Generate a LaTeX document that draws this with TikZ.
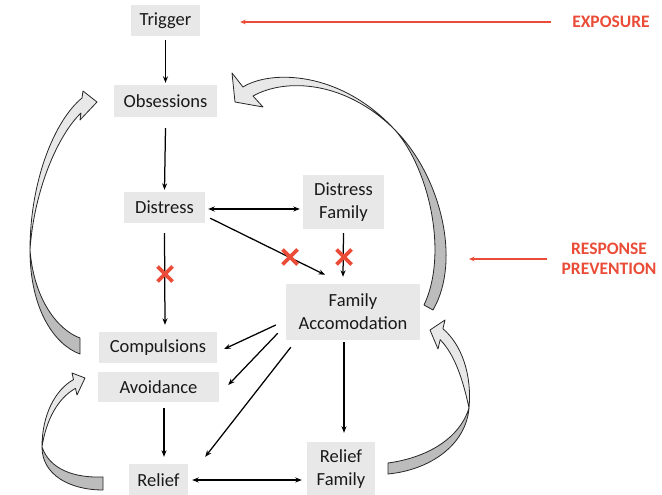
\documentclass[tikz,border=0pt]{standalone}
\usepackage{fontspec}
\setmainfont{Carlito}
\usetikzlibrary{arrows.meta}
\definecolor{boxgray}{RGB}{232,232,232}
\definecolor{redmark}{RGB}{234,76,56}
\definecolor{bandlight}{RGB}{232,232,232}
\definecolor{banddark}{RGB}{188,188,188}
\begin{document}
\begin{tikzpicture}[x=1pt,y=-1pt,
  box/.style={fill=boxgray, inner sep=0pt, align=center, text=black!90,
    font=\fontsize{18.5}{23}\selectfont},
  arr/.style={-{Stealth[length=6.5pt,width=5pt]}, line width=1.25pt},
  arrboth/.style={{Stealth[length=6.5pt,width=5pt]}-{Stealth[length=6.5pt,width=5pt]}, line width=1.25pt},
  redtext/.style={text=redmark, inner sep=0pt, align=center,
    font=\fontsize{17.5}{20.5}\selectfont\bfseries},
  redarr/.style={draw=redmark, line width=1.2pt, -{Stealth[length=5.5pt,width=4.5pt]}},
  xmark/.style={draw=redmark, line width=3.6pt},
  bandedge/.style={draw=black!85, line width=0.8pt, line join=round},
  redx/.pic={\draw[xmark] (-7.5,-7.5) -- (7.5,7.5) (-7.5,7.5) -- (7.5,-7.5);}
]
\useasboundingbox (0,0) rectangle (662,495);

% boxes
\node[box, minimum width=69pt, minimum height=31pt] (trig) at (165.5,20.5) {Trigger};
\node[box, minimum width=103pt, minimum height=32pt] (obs) at (165.5,101) {Obsessions};
\node[box, minimum width=81pt, minimum height=31pt] (dis) at (164.5,207.5) {Distress};
\node[box, minimum width=81pt, minimum height=54pt] (disf) at (343.5,202) {Distress\\Family};
\node[box, minimum width=134pt, minimum height=56pt] (fam) at (353,312) {Family\\Accomodation};
\node[box, minimum width=118pt, minimum height=31pt] (comp) at (158,347.5) {Compulsions};
\node[box, minimum width=121pt, minimum height=30pt] (avoid) at (158.5,387) {Avoidance};
\node[box, minimum width=59pt, minimum height=32pt] (rel) at (158.5,480) {Relief};
\node[box, minimum width=68pt, minimum height=54pt] (relf) at (341,469) {Relief\\Family};

% labels on the right
\node[redtext] (expo) at (611,22) {EXPOSURE};
\node[redtext] (resp) at (609,259) {RESPONSE\\PREVENTION};
\coordinate (rpe) at (469,259);

% connectors
\draw[arr] ([yshift=-4pt]trig.south) -- ([yshift=2pt]obs.north);
\draw[arr] ([yshift=-11pt]obs.south) -- ([yshift=2pt]dis.north);
\draw[arrboth] ([xshift=3pt,yshift=-1.5pt]dis.east) -- ([xshift=-3pt,yshift=-7pt]disf.west);
\draw[arr] ([xshift=5pt,yshift=5pt]dis.south east) -- ([xshift=-28pt,yshift=9pt]fam.north);
\draw[arr] ([yshift=-4pt]disf.south) -- ([xshift=-10pt,yshift=7pt]fam.north);
\draw[arr] ([yshift=-10pt]dis.south) -- ([xshift=7pt,yshift=7pt]comp.north);
\draw[arr] ([xshift=-10pt,yshift=-13pt]fam.west) -- ([xshift=7pt,yshift=-1.5pt]comp.east);
\draw[arr] ([xshift=-8pt,yshift=7pt]fam.south west) -- ([xshift=9pt,yshift=2pt]avoid.east);
\draw[arr] ([xshift=5pt,yshift=-7pt]fam.south west) -- ([xshift=17pt,yshift=7pt]rel.north east);
\draw[arr] ([xshift=-9pt,yshift=-2pt]fam.south) -- ([xshift=3pt,yshift=9pt]relf.north);
\draw[arr] ([xshift=5.5pt,yshift=-6pt]avoid.south) -- ([xshift=5.5pt,yshift=7pt]rel.north);
\draw[arrboth] ([xshift=4pt]rel.east) -- ([xshift=-5pt,yshift=-11pt]relf.west);

% red arrows
\draw[redarr] ([xshift=-21.5pt]expo.west) -- ([xshift=40pt,yshift=-1.5pt]trig.east);
\draw[redarr] ([xshift=-14pt]resp.west) -- (rpe);

% blocked links
\pic at (165,274) {redx};
\pic at (290,257) {redx};
\pic at (344,257) {redx};

% curved block arrow: compulsions back to obsessions
\filldraw[bandedge, fill=bandlight] (30,250) .. controls (30,180) and (55,120) .. (82,98)
  -- (83,91) -- (97,102) -- (80,120) -- (81,113)
  .. controls (58,135) and (34,190) .. (30,250) -- cycle;
\filldraw[bandedge, fill=banddark] (30,250) .. controls (30,310) and (55,345) .. (80,354)
  -- (80,338) .. controls (58,330) and (34,300) .. (30,250) -- cycle;

% curved block arrow: family accomodation back to obsessions
\filldraw[bandedge, fill=bandlight] (395,130) .. controls (340,70) and (270,70) .. (243,87)
  -- (232,73) -- (235,102) -- (263,107) -- (253,96)
  .. controls (285,78) and (345,80) .. (395,130) -- cycle;
\filldraw[bandedge, fill=banddark] (395,130) .. controls (440,175) and (462,260) .. (433,310)
  -- (424,305) .. controls (448,255) and (430,170) .. (395,130) -- cycle;

% curved block arrow: relief back to avoidance
\filldraw[bandedge, fill=bandlight] (42,447) .. controls (42,415) and (55,390) .. (73.5,379.6)
  -- (72,373) -- (85,378) -- (77,395) -- (75.5,388.4)
  .. controls (58,398) and (46,420) .. (42,447) -- cycle;
\filldraw[bandedge, fill=banddark] (42,447) .. controls (42,475) and (70,490) .. (103,490)
  -- (103,477) .. controls (75,478) and (50,470) .. (42,447) -- cycle;

% curved block arrow: relief family back to family accomodation
\filldraw[bandedge, fill=bandlight] (469,408) .. controls (472,375) and (462,345) .. (442.9,328.7)
  -- (445,320) -- (430,330) -- (438,349) -- (440.2,339.7)
  .. controls (455,355) and (463,380) .. (469,408) -- cycle;
\filldraw[bandedge, fill=banddark] (469,408) .. controls (466,445) and (430,470) .. (388,474)
  -- (388,463) .. controls (425,458) and (459,440) .. (469,408) -- cycle;
\end{tikzpicture}
\end{document}
